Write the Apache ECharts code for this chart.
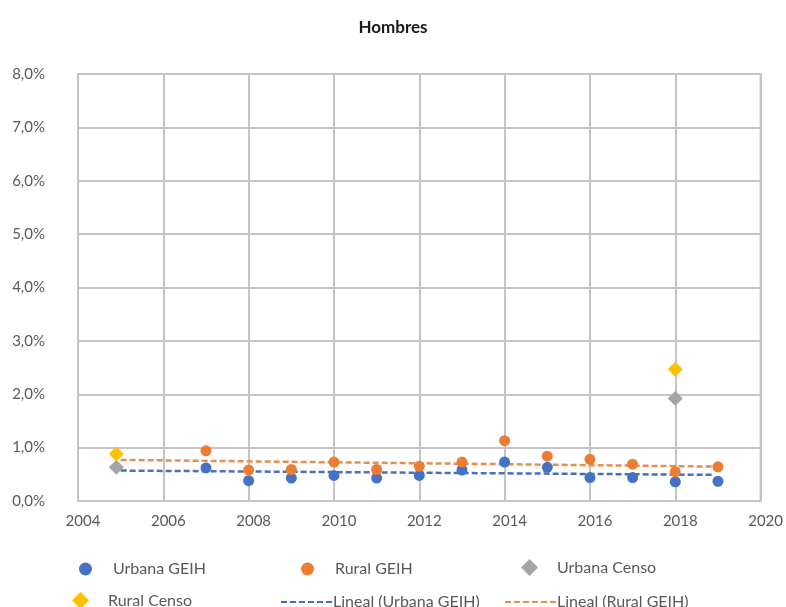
<!DOCTYPE html>
<html>
<head>
<meta charset="utf-8">
<script src="https://cdn.jsdelivr.net/npm/echarts@6/dist/echarts.min.js"></script>
<style>
  html, body { margin: 0; padding: 0; background: #ffffff; }
  #chart { width: 786px; height: 607px; }
</style>
</head>
<body>
<div id="chart"></div>
<script>
// Tasa (%) por año – Hombres
const geihYears = [2007, 2008, 2009, 2010, 2011, 2012, 2013, 2014, 2015, 2016, 2017, 2018, 2019];
const urbanaGeih = [0.62, 0.38, 0.43, 0.48, 0.43, 0.48, 0.58, 0.73, 0.63, 0.44, 0.44, 0.36, 0.37];
const ruralGeih  = [0.94, 0.58, 0.59, 0.73, 0.59, 0.65, 0.73, 1.13, 0.84, 0.78, 0.69, 0.55, 0.64];

const censoYears = [2004.9, 2018];
const urbanaCenso = [0.63, 1.92];
const ruralCenso  = [0.88, 2.47];

// Extremos de las líneas de tendencia lineal
const trendYears   = [2005, 2018.9];
const trendUrbana  = [0.57, 0.49];
const trendRural   = [0.77, 0.645];

const xTicks = { min: 2004, max: 2020, step: 2 };
const yTicks = { min: 0, max: 8, step: 1 };

const FONT = 'Lato';
const TEXT = '#595959';
const GRID = '#c4c4c4';

const pairs = (xs, ys) => xs.map((x, i) => [x, ys[i]]);

const legendText = { color: TEXT, fontFamily: FONT, fontSize: 16 };
function legendAt(name, left, top, extra) {
  return Object.assign({
    data: [name], left: left, top: top, orient: 'horizontal',
    itemWidth: 13, itemHeight: 13, selectedMode: false,
    textStyle: Object.assign({}, legendText, { padding: [0, 0, 0, 16] })
  }, extra || {});
}
const diamondLegend = {
  itemWidth: 17, itemHeight: 17,
  textStyle: Object.assign({}, legendText, { padding: [0, 0, 0, 14] })
};
const lineLegend = {
  itemWidth: 52, itemHeight: 10,
  itemStyle: { opacity: 0 },
  textStyle: Object.assign({}, legendText, { padding: [0, 0, 0, -5] })
};

const chart = echarts.init(document.getElementById('chart'));
chart.setOption({
  animation: false,
  backgroundColor: '#ffffff',
  title: {
    text: 'Hombres', left: 'center', top: 14,
    textStyle: { fontFamily: FONT, fontSize: 17, fontWeight: 'bold', color: '#1a1a1a' }
  },
  legend: [
    legendAt('Urbana GEIH', 74, 556),
    legendAt('Rural GEIH', 296, 556),
    legendAt('Urbana Censo', 516, 554, diamondLegend),
    legendAt('Rural Censo', 67, 587, diamondLegend),
    legendAt('Lineal (Urbana GEIH)', 275, 589, lineLegend),
    legendAt('Lineal (Rural GEIH)', 499, 589, lineLegend)
  ],
  grid: { left: 78, right: 25, top: 74, bottom: 106, containLabel: false,
          show: true, borderColor: GRID, borderWidth: 2 },
  xAxis: {
    type: 'value', min: xTicks.min, max: xTicks.max, interval: xTicks.step,
    axisLine: { show: true, lineStyle: { color: GRID, width: 2 } },
    axisTick: { show: false },
    splitLine: { show: true, lineStyle: { color: GRID, width: 2 } },
    axisLabel: { color: TEXT, fontFamily: FONT, fontSize: 15, margin: 13,
                 padding: [0, 0, 0, 10], formatter: v => String(v) }
  },
  yAxis: {
    type: 'value', min: yTicks.min, max: yTicks.max, interval: yTicks.step,
    axisLine: { show: true, lineStyle: { color: GRID, width: 2 } },
    axisTick: { show: false },
    splitLine: { show: true, lineStyle: { color: GRID, width: 2 } },
    axisLabel: { color: TEXT, fontFamily: FONT, fontSize: 15, margin: 33,
                 padding: [0, 0, 6, 0],
                 formatter: v => v.toFixed(1).replace('.', ',') + '%' }
  },
  series: [
    {
      name: 'Lineal (Urbana GEIH)', type: 'line', data: pairs(trendYears, trendUrbana),
      symbol: 'none', z: 2, color: '#4a6fbf',
      lineStyle: { color: '#4a6fbf', width: 2.5, type: [6, 3] }
    },
    {
      name: 'Lineal (Rural GEIH)', type: 'line', data: pairs(trendYears, trendRural),
      symbol: 'none', z: 2, color: '#e58f52',
      lineStyle: { color: '#e58f52', width: 2.5, type: [6, 3] }
    },
    {
      name: 'Urbana GEIH', type: 'scatter', data: pairs(geihYears, urbanaGeih),
      symbol: 'circle', symbolSize: 11, z: 3, itemStyle: { color: '#4472C4', opacity: 1 }
    },
    {
      name: 'Rural GEIH', type: 'scatter', data: pairs(geihYears, ruralGeih),
      symbol: 'circle', symbolSize: 11, z: 3, itemStyle: { color: '#ED7D31', opacity: 1 }
    },
    {
      name: 'Urbana Censo', type: 'scatter', data: pairs(censoYears, urbanaCenso),
      symbol: 'diamond', symbolSize: 15, z: 3, itemStyle: { color: '#A5A5A5', opacity: 1 }
    },
    {
      name: 'Rural Censo', type: 'scatter', data: pairs(censoYears, ruralCenso),
      symbol: 'diamond', symbolSize: 15, z: 3, itemStyle: { color: '#FFC000', opacity: 1 }
    }
  ]
});
</script>
</body>
</html>
